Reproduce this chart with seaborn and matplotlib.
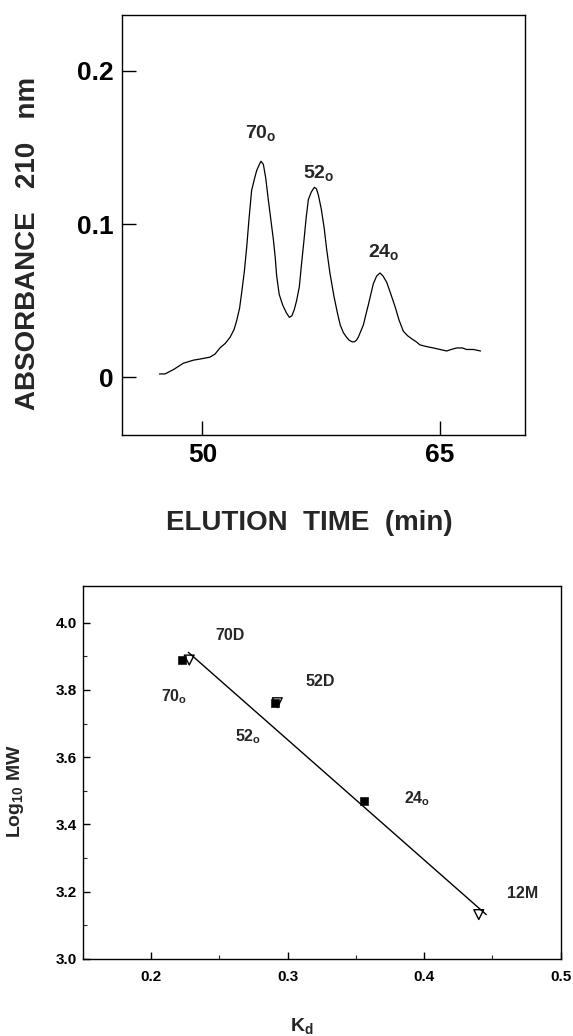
import matplotlib
matplotlib.use("Agg")
import matplotlib.pyplot as plt
import seaborn as sns
from matplotlib.ticker import FixedLocator

# ---------------- data: chromatogram ----------------
elution_time = [47.29, 47.64, 48.20, 48.80, 49.43, 50.00, 50.48, 50.80, 51.11, 51.45,
                51.75, 52.00, 52.17, 52.35, 52.48, 52.65, 52.80, 52.95, 53.11, 53.30,
                53.43, 53.60, 53.70, 53.85, 54.00, 54.16, 54.32, 54.48, 54.60, 54.69,
                54.85, 55.07, 55.30, 55.49, 55.65, 55.80, 55.95, 56.12, 56.25, 56.41,
                56.55, 56.69, 56.88, 57.07, 57.20, 57.32, 57.50, 57.68, 57.85, 58.05,
                58.30, 58.52, 58.70, 58.90, 59.10, 59.27, 59.45, 59.59, 59.72, 59.84,
                60.00, 60.16, 60.30, 60.47, 60.63, 60.79, 61.00, 61.21, 61.40, 61.63,
                61.90, 62.16, 62.42, 62.68, 62.95, 63.21, 63.50, 63.73, 64.10, 64.57,
                65.00, 65.42, 65.70, 66.05, 66.40, 66.68, 67.10, 67.56]
absorbance = [0.002, 0.002, 0.005, 0.009, 0.011, 0.012, 0.013, 0.015, 0.019, 0.022,
              0.026, 0.031, 0.037, 0.045, 0.055, 0.069, 0.085, 0.104, 0.122, 0.130,
              0.135, 0.139, 0.141, 0.139, 0.130, 0.116, 0.103, 0.090, 0.078, 0.066,
              0.054, 0.047, 0.042, 0.039, 0.040, 0.044, 0.050, 0.059, 0.073, 0.089,
              0.104, 0.116, 0.121, 0.124, 0.123, 0.119, 0.110, 0.098, 0.083, 0.068,
              0.053, 0.042, 0.034, 0.029, 0.026, 0.024, 0.023, 0.023, 0.024, 0.026,
              0.030, 0.034, 0.040, 0.047, 0.054, 0.061, 0.066, 0.068, 0.066, 0.062,
              0.054, 0.046, 0.037, 0.030, 0.027, 0.025, 0.023, 0.021, 0.020, 0.019,
              0.018, 0.017, 0.018, 0.019, 0.019, 0.018, 0.018, 0.017]
peak_names = ["70", "52", "24"]
peak_label_time = [53.66, 57.32, 61.48]
peak_label_abs = [0.159, 0.133, 0.081]

top_xticks = [50, 65]
top_yticks = [0, 0.1, 0.2]
top_yticklabels = ["0", "0.1", "0.2"]

# ---------------- data: calibration ----------------
kd_native = [0.223, 0.2905, 0.356]          # filled squares (70o, 52o, 24o)
logmw_native = [3.889, 3.762, 3.470]
kd_denat = [0.228, 0.2925, 0.440]           # open triangles (70D, 52D, 12M)
logmw_denat = [3.889, 3.762, 3.132]
fit_kd = [0.2273, 0.4455]
fit_logmw = [3.912, 3.132]

point_names = [r"70D", r"70$_{\mathbf{o}}$", r"52D", r"52$_{\mathbf{o}}$",
               r"24$_{\mathbf{o}}$", r"12M"]
point_label_kd = [0.258, 0.217, 0.324, 0.271, 0.395, 0.472]
point_label_logmw = [3.963, 3.780, 3.825, 3.661, 3.476, 3.196]

bot_xticks = [0.2, 0.3, 0.4, 0.5]
bot_xticklabels = ["0.2", "0.3", "0.4", "0.5"]
bot_xminor = [0.25, 0.35, 0.45]
bot_yticks = [3.0, 3.2, 3.4, 3.6, 3.8, 4.0]
bot_yticklabels = ["3.0", "3.2", "3.4", "3.6", "3.8", "4.0"]
bot_yminor = [3.1, 3.3, 3.5, 3.7, 3.9]

# ---------------- style ----------------
sns.set_style("ticks")
plt.rcParams["font.family"] = ["Liberation Sans", "DejaVu Sans"]
plt.rcParams["mathtext.fontset"] = "custom"
plt.rcParams["mathtext.rm"] = "Liberation Sans"
plt.rcParams["mathtext.bf"] = "Liberation Sans:bold"
plt.rcParams["axes.linewidth"] = 1.0
plt.rcParams["axes.edgecolor"] = "black"

W, H = 573, 1036
fig = plt.figure(figsize=(W / 100, H / 100), dpi=100)
fig.patch.set_facecolor("white")

# ---------------- top panel ----------------
ax1 = fig.add_axes([122 / W, 1 - 435 / H, 403 / W, 420 / H])
sns.lineplot(x=elution_time, y=absorbance, ax=ax1, color="black", lw=0.9,
             sort=False, estimator=None)
ax1.set_xlim(44.93, 70.36)
ax1.set_ylim(-0.0379, 0.2366)
ax1.set_xticks(top_xticks)
ax1.set_xticklabels([str(t) for t in top_xticks])
ax1.set_yticks(top_yticks)
ax1.set_yticklabels(top_yticklabels)
ax1.tick_params(direction="in", length=10, width=1, labelsize=19, pad=6,
                top=False, right=False, colors="black")
for lbl in ax1.get_xticklabels() + ax1.get_yticklabels():
    lbl.set_fontweight("bold")
for sp in ax1.spines.values():
    sp.set_visible(True)
    sp.set_linewidth(1.0)
for name, x, y in zip(peak_names, peak_label_time, peak_label_abs):
    ax1.text(x, y, name + r"$_{\mathbf{o}}$", ha="center", va="center",
             fontsize=14, fontweight="bold")

fig.text(28 / W, 1 - 243 / H, "ABSORBANCE   210   nm", rotation=90,
         ha="center", va="center", fontsize=20, fontweight="bold")
fig.text(309 / W, 1 - 523 / H, "ELUTION  TIME  (min)", ha="center",
         va="center", fontsize=20, fontweight="bold")

# ---------------- bottom panel ----------------
ax2 = fig.add_axes([82.7 / W, 1 - 959 / H, 478 / W, 373.3 / H])
sns.lineplot(x=fit_kd, y=fit_logmw, ax=ax2, color="black", lw=1.0)
sns.scatterplot(x=kd_native, y=logmw_native, ax=ax2, marker="s", color="black",
                edgecolor="black", s=30, zorder=3)
sns.scatterplot(x=kd_denat, y=logmw_denat, ax=ax2, marker="v",
                facecolor="none", edgecolor="black", s=50, linewidth=1.0,
                zorder=3)
ax2.collections[-1].set_facecolor("none")
ax2.collections[-1].set_edgecolor("black")
ax2.set_xlim(0.15, 0.5)
ax2.set_ylim(3.0, 4.11)
ax2.set_xticks(bot_xticks)
ax2.set_xticklabels(bot_xticklabels)
ax2.set_yticks(bot_yticks)
ax2.set_yticklabels(bot_yticklabels)
ax2.xaxis.set_minor_locator(FixedLocator(bot_xminor))
ax2.yaxis.set_minor_locator(FixedLocator(bot_yminor))
ax2.tick_params(which="major", direction="in", length=5, width=1,
                labelsize=11, top=False, right=False, colors="black")
ax2.tick_params(axis="x", which="major", pad=8)
ax2.tick_params(axis="y", which="major", pad=4)
ax2.tick_params(which="minor", direction="in", length=3, width=0.8,
                top=False, right=False)
for lbl in ax2.get_xticklabels() + ax2.get_yticklabels():
    lbl.set_fontweight("bold")
for sp in ax2.spines.values():
    sp.set_visible(True)
    sp.set_linewidth(1.0)
for name, x, y in zip(point_names, point_label_kd, point_label_logmw):
    ax2.text(x, y, name, ha="center", va="center", fontsize=11.5,
             fontweight="bold")

fig.text(16 / W, 1 - 791 / H, r"Log$_{\mathbf{10}}$ MW", rotation=90,
         ha="center", va="center", fontsize=14, fontweight="bold")
fig.text(302 / W, 1 - 1027 / H, r"K$_{\mathbf{d}}$", ha="center",
         va="center", fontsize=14, fontweight="bold")

fig.savefig("out.png", dpi=100, facecolor="white")
